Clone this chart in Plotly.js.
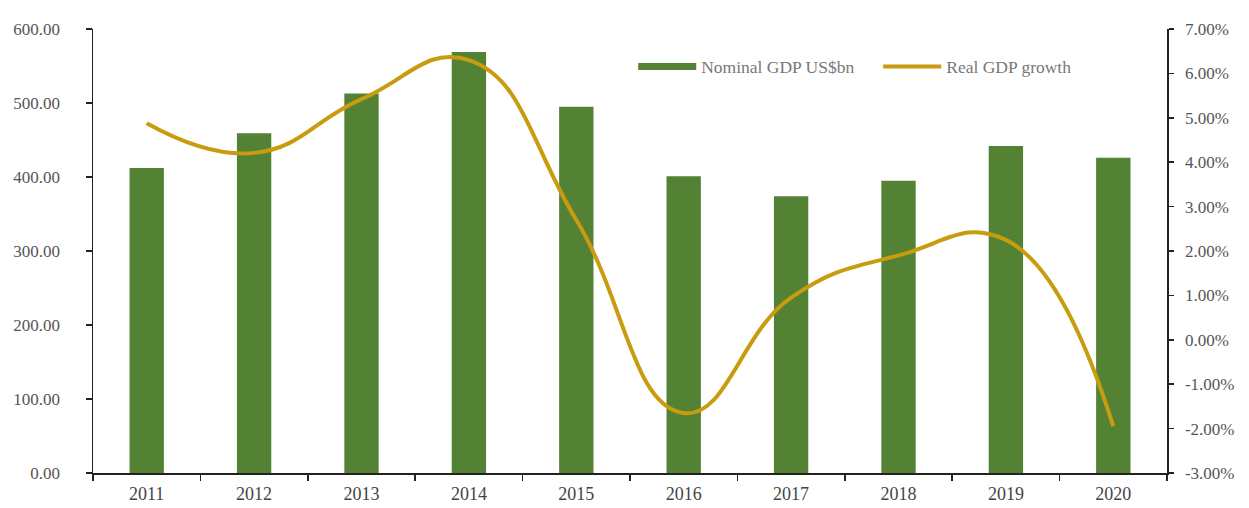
<!DOCTYPE html>
<html>
<head>
<meta charset="utf-8">
<script src="https://cdn.plot.ly/plotly-3.0.1.min.js"></script>
<style>html,body{margin:0;padding:0;background:#fff;}#chart{width:1249px;height:508px;}</style>
</head>
<body>
<div id="chart"></div>
<script>
const years = ["2011","2012","2013","2014","2015","2016","2017","2018","2019","2020"];
const nominalGDP = [412, 459, 513, 569, 495, 401, 374, 395, 442, 426];
const realGrowth = [4.88, 4.21, 5.42, 6.30, 2.70, -1.65, 0.95, 1.90, 2.25, -1.95];
const leftTicks = [0, 100, 200, 300, 400, 500, 600];
const rightTicks = [-3, -2, -1, 0, 1, 2, 3, 4, 5, 6, 7];

const rightTickText = rightTicks.map(v => v.toFixed(2) + "%");
const leftTickText = leftTicks.map(v => v.toFixed(2));

const green = "rgb(84,130,53)";
const gold = "rgb(200,156,14)";
const serif = "Liberation Serif, DejaVu Serif, serif";

const traces = [
  {type: "bar", x: years, y: nominalGDP, name: "Nominal GDP US$bn",
   marker: {color: green}, width: 0.32, showlegend: false, yaxis: "y", hoverinfo: "x+y"},
  {type: "scatter", mode: "lines", x: [null], y: [null], name: "Nominal GDP US$bn",
   line: {color: green, width: 7}, yaxis: "y", hoverinfo: "skip"},
  {type: "scatter", mode: "lines", x: years, y: realGrowth, name: "Real GDP growth",
   line: {color: gold, width: 4, shape: "spline", smoothing: 1.3}, yaxis: "y2"}
];

const tickFont = {family: serif, size: 17, color: "#555"};

const layout = {
  width: 1249, height: 508,
  margin: {l: 93, r: 82, t: 29, b: 35, autoexpand: false},
  paper_bgcolor: "#fff", plot_bgcolor: "#fff",
  showlegend: true,
  legend: {orientation: "h", x: 0.503, y: 0.915, xanchor: "left", yanchor: "middle",
           font: {family: serif, size: 17.5, color: "#777"},
           bgcolor: "rgba(0,0,0,0)", itemwidth: 58, tracegroupgap: 0,
           entrywidth: 172, entrywidthmode: "pixels"},
  xaxis: {type: "category", range: [-0.5, 9.5], showline: true, linecolor: "#222", linewidth: 1.5,
          ticks: "outside", tickson: "boundaries", ticklen: 6, tickcolor: "#222", tickwidth: 1.5,
          ticklabelstandoff: 4,
          tickfont: {family: serif, size: 18, color: "#444"},
          showgrid: false, zeroline: false, fixedrange: true},
  yaxis: {range: [0, 600], tickvals: leftTicks, ticktext: leftTickText, showline: true,
          linecolor: "#222", linewidth: 1.5, ticks: "outside", ticklen: 6, tickcolor: "#222",
          tickwidth: 1.5, ticklabelstandoff: 22, tickfont: tickFont, showgrid: false,
          zeroline: false, fixedrange: true},
  yaxis2: {overlaying: "y", side: "right", range: [-3, 7], tickvals: rightTicks, ticktext: rightTickText,
           showline: true, linecolor: "#222", linewidth: 1.5, ticks: "outside", ticklen: 5,
           tickcolor: "#222", tickwidth: 1.5, ticklabelstandoff: 8, tickfont: tickFont,
           showgrid: false, zeroline: false, fixedrange: true}
};

Plotly.newPlot("chart", traces, layout, {displayModeBar: false, staticPlot: true});
</script>
</body>
</html>
